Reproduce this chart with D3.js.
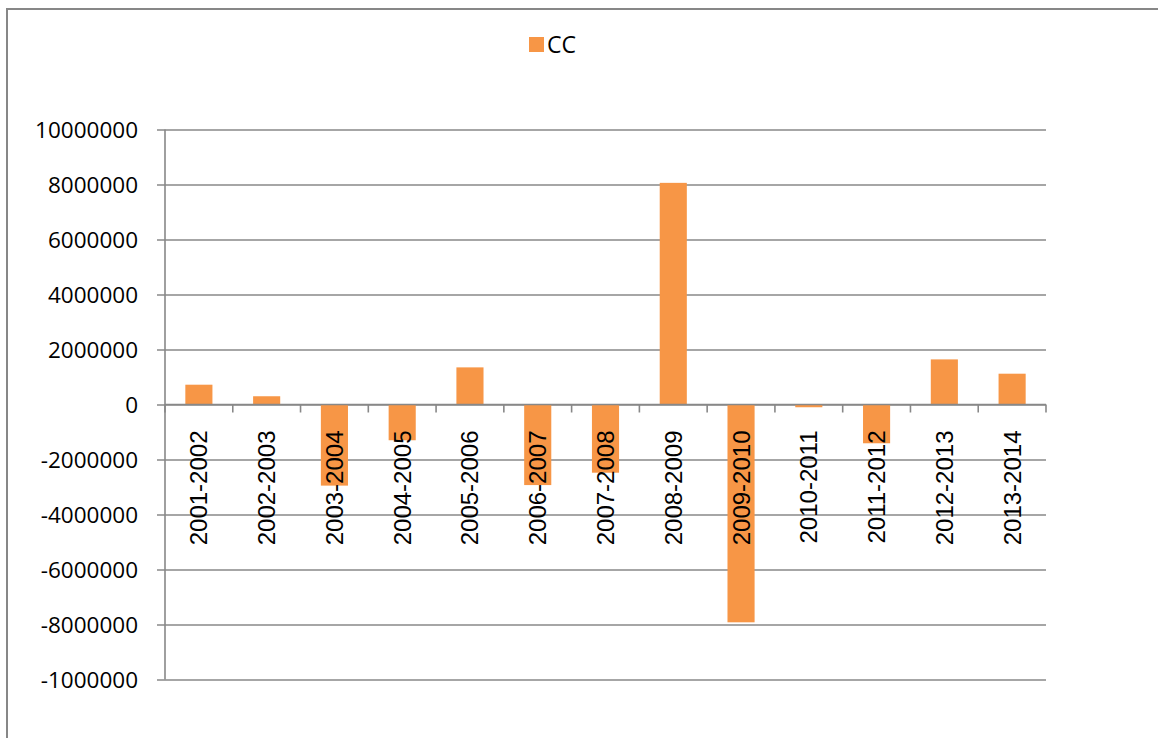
<!DOCTYPE html>
<html>
<head>
<meta charset="utf-8">
<script src="https://cdn.jsdelivr.net/npm/d3@7"></script>
<style>
  html, body { margin: 0; padding: 0; background: #fff; }
  svg { display: block; }
</style>
</head>
<body>
<svg id="chart" width="1158" height="738"></svg>
<script>
// Fiscal-year periods
const categories = ["2001-2002","2002-2003","2003-2004","2004-2005","2005-2006","2006-2007",
  "2007-2008","2008-2009","2009-2010","2010-2011","2011-2012","2012-2013","2013-2014"];
// CC series values
const ccValues = [720000, 300000, -2950000, -1300000, 1350000, -2930000,
  -2480000, 8060000, -7920000, -100000, -1410000, 1640000, 1120000];
// Y tick values and their printed labels
const yTicks = [10000000, 8000000, 6000000, 4000000, 2000000, 0,
  -2000000, -4000000, -6000000, -8000000, -10000000];
const yTickLabels = ["10000000","8000000","6000000","4000000","2000000","0",
  "-2000000","-4000000","-6000000","-8000000","-1000000"];
const seriesName = "CC";

const svg = d3.select("#chart");
const gridColor = "#888888";
const barColor = "#F79646";

// outer chart frame
svg.append("rect")
  .attr("x", 7).attr("y", 9).attr("width", 1170).attr("height", 760)
  .attr("fill", "none").attr("stroke", "#878787").attr("stroke-width", 2);

const plotLeft = 165, plotRight = 1046, plotTop = 129.5, plotBottom = 679.5;

const y = d3.scaleLinear().domain([-10000000, 10000000]).range([plotBottom, plotTop]);
const x = d3.scaleBand().domain(categories).range([plotLeft, plotRight]).paddingInner(0.6).paddingOuter(0.3);
const xStep = d3.scaleBand().domain(categories).range([plotLeft, plotRight]);

// horizontal gridlines with left ticks
const yAxis = d3.axisLeft(y)
  .tickValues(yTicks)
  .tickSize(-(plotRight - plotLeft))
  .tickSizeOuter(0)
  .tickFormat((d, i) => yTickLabels[i]);
const gy = svg.append("g").attr("transform", `translate(${plotLeft},0)`).call(yAxis);
gy.select(".domain").remove();
gy.selectAll(".tick line")
  .attr("x1", -8)
  .attr("stroke", gridColor).attr("stroke-width", 1.6);
gy.selectAll(".tick text")
  .attr("x", -27)
  .attr("dy", "0.35em")
  .attr("fill", "#000")
  .style("font-family", "'Open Sans', sans-serif")
  .style("font-size", "22.5px");

// vertical axis line
svg.append("line")
  .attr("x1", plotLeft).attr("x2", plotLeft)
  .attr("y1", y(10000000)).attr("y2", y(-10000000))
  .attr("stroke", gridColor).attr("stroke-width", 1.6);

// bars
svg.append("g").selectAll("rect")
  .data(ccValues)
  .join("rect")
  .attr("x", (d, i) => x(categories[i]))
  .attr("width", x.bandwidth())
  .attr("y", d => Math.min(y(d), y(0)))
  .attr("height", d => Math.abs(y(d) - y(0)))
  .attr("fill", barColor);

// category axis at zero with tick marks between categories
const gx = svg.append("g").attr("transform", `translate(0,${y(0)})`);
gx.append("line")
  .attr("x1", plotLeft).attr("x2", plotRight)
  .attr("stroke", gridColor).attr("stroke-width", 1.6);
const boundaries = categories.map(c => xStep(c)).concat([plotRight]);
gx.selectAll("line.tk")
  .data(boundaries)
  .join("line")
  .attr("class", "tk")
  .attr("x1", d => d).attr("x2", d => d)
  .attr("y1", 0).attr("y2", 8)
  .attr("stroke", gridColor).attr("stroke-width", 1.6);

// rotated category labels
gx.selectAll("text")
  .data(categories)
  .join("text")
  .attr("transform", d => `translate(${xStep(d) + xStep.bandwidth() / 2 + 8.5},26) rotate(-90)`)
  .attr("text-anchor", "end")
  .attr("fill", "#000")
  .style("font-family", "'Liberation Sans', Arial, sans-serif")
  .style("font-size", "24px")
  .text(d => d);

// legend
const lg = svg.append("g").attr("transform", "translate(529,37)");
lg.append("rect").attr("width", 15).attr("height", 15).attr("fill", barColor);
lg.append("text")
  .attr("x", 18).attr("y", 7.5).attr("dy", "0.35em")
  .attr("fill", "#000")
  .style("font-family", "'Open Sans', sans-serif")
  .style("font-size", "23px")
  .text(seriesName);
</script>
</body>
</html>
